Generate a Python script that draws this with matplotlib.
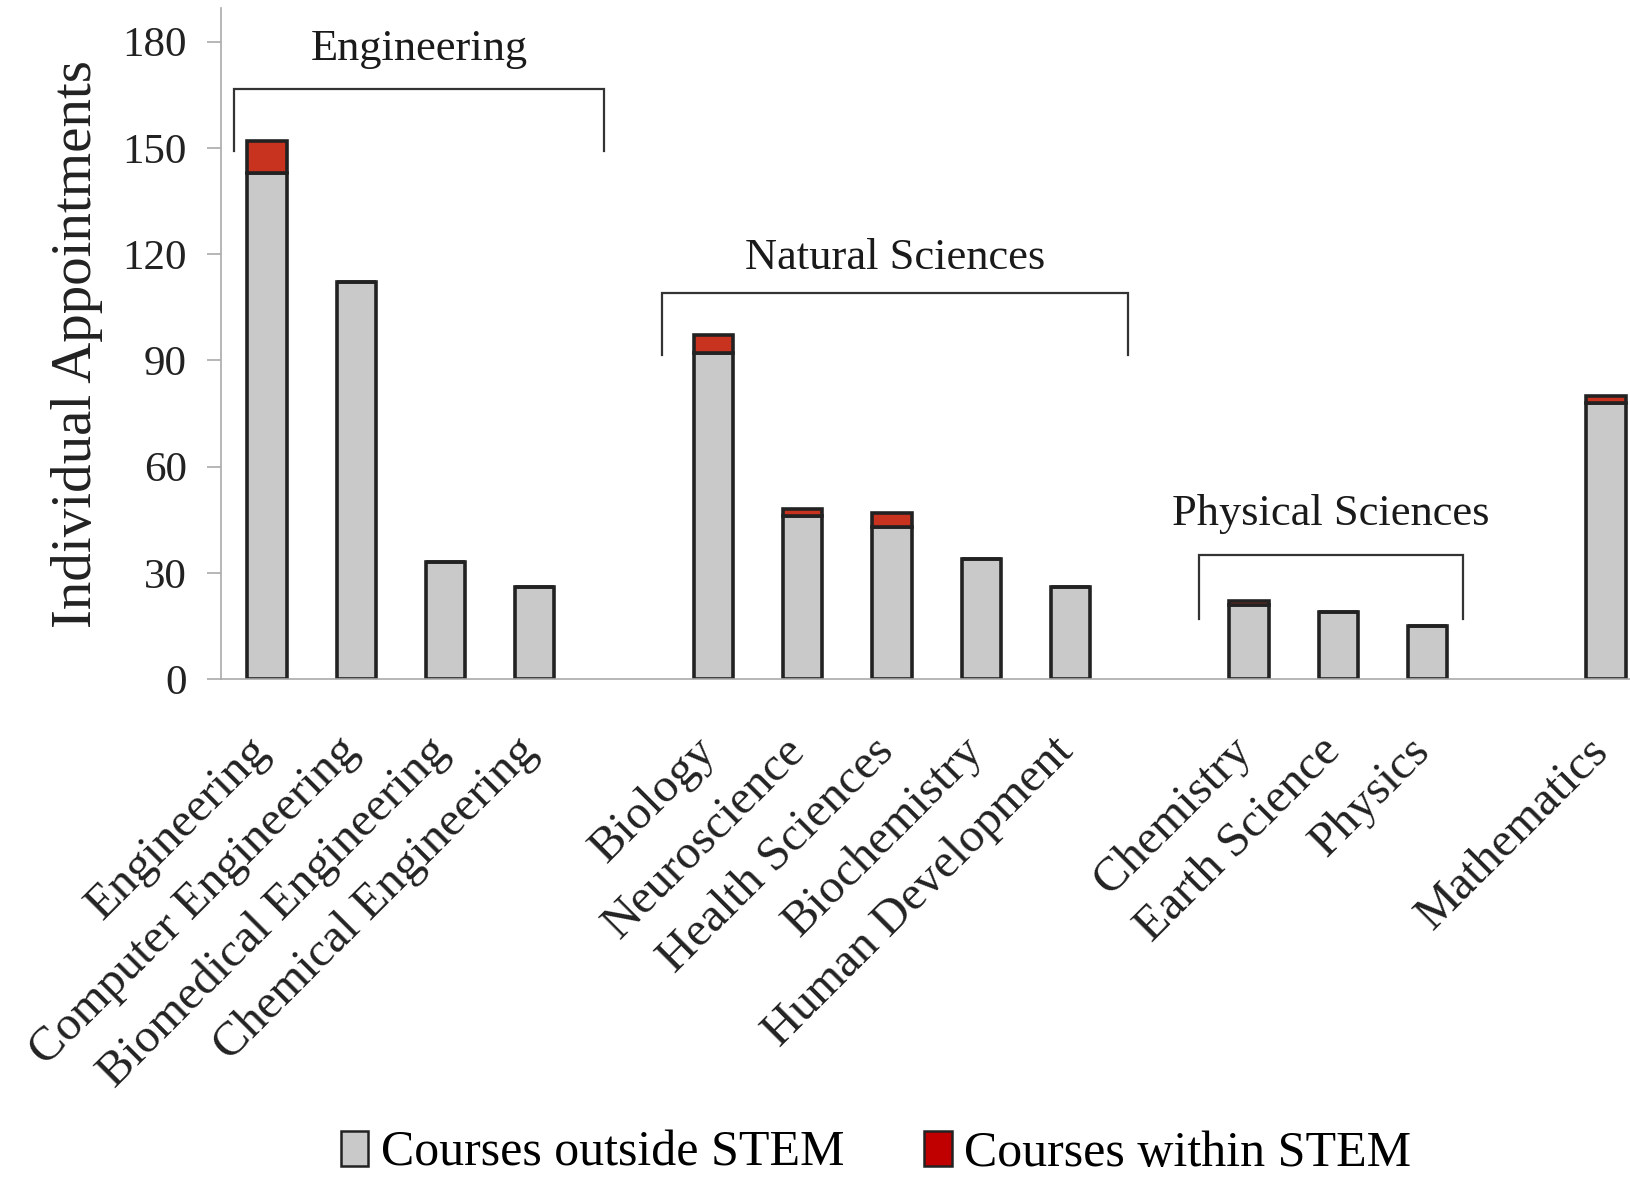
import matplotlib
matplotlib.use("Agg")
import matplotlib.pyplot as plt
from matplotlib.patches import Patch
from matplotlib.transforms import ScaledTranslation

categories = ["Engineering", "Computer Engineering", "Biomedical Engineering", "Chemical Engineering",
              "Biology", "Neuroscience", "Health Sciences", "Biochemistry", "Human Development",
              "Chemistry", "Earth Science", "Physics", "Mathematics"]
positions = [0, 1, 2, 3, 5, 6, 7, 8, 9, 11, 12, 13, 15]
outside_stem = [143, 112, 33, 26, 92, 46, 43, 34, 26, 21, 19, 15, 78]
within_stem = [9, 0, 0, 0, 5, 2, 4, 0, 0, 1, 0, 0, 2]

groups = ["Engineering", "Natural Sciences", "Physical Sciences"]
group_spans = [(-0.37, 3.78), (4.43, 9.64), (10.44, 13.4)]
group_bracket_y = [166.5, 109, 35]
group_bracket_drop = [149, 91.6, 17]
group_label_y = [178, 119, 46.7]

yticks = [0, 30, 60, 90, 120, 150, 180]

plt.rcParams['font.family'] = ['Liberation Serif', 'DejaVu Serif']

fig = plt.figure(figsize=(16.31, 11.77), dpi=100)
ax = fig.add_axes([0.1358, 0.4231, 0.8642, 0.5699])

gray = '#C9C9C9'
red = '#C8331F'
edge = '#222222'
w = 0.44
ax.bar(positions, outside_stem, width=w, color=gray, edgecolor=edge, linewidth=2.6, zorder=2)
ax.bar(positions, within_stem, width=w, bottom=outside_stem, color=red, edgecolor=edge, linewidth=2.6, zorder=2)

for name, (x0, x1), yb, yd, yl in zip(groups, group_spans, group_bracket_y, group_bracket_drop, group_label_y):
    ax.plot([x0, x0, x1, x1], [yd, yb, yb, yd], color='#333333', lw=1.6, zorder=3, solid_joinstyle='miter')
    ax.text((x0 + x1) / 2, yl, name, ha='center', va='center', fontsize=32, color='#1a1a1a')

ax.set_xlim(-0.51, 15.28)
ax.set_ylim(0, 189.4)
ax.set_yticks(yticks)
ax.tick_params(axis='y', labelsize=31, length=10, width=1.2, color='#aaaaaa', pad=15, labelcolor='#222222')
ax.set_xticks(positions)
ax.set_xticklabels(categories, rotation=45, ha='right', va='top', rotation_mode='anchor',
                   fontsize=35, color='#222222')
ax.tick_params(axis='x', length=0, pad=36)
shift = ScaledTranslation(-20 / 100, 0, fig.dpi_scale_trans)
for lab in ax.get_xticklabels():
    lab.set_transform(lab.get_transform() + shift)
ax.set_ylabel("Individual Appointments", fontsize=41, color='#222222', labelpad=14)

for s in ['top', 'right']:
    ax.spines[s].set_visible(False)
ax.spines['left'].set_color('#aaaaaa')
ax.spines['bottom'].set_color('#aaaaaa')
ax.spines['left'].set_linewidth(1.2)
ax.spines['bottom'].set_linewidth(1.2)

handles = [Patch(facecolor=gray, edgecolor=edge, linewidth=1.8, label='Courses outside STEM'),
           Patch(facecolor='#C00000', edgecolor=edge, linewidth=1.8, label='Courses within STEM')]
fig.legend(handles=handles, loc='center', bbox_to_anchor=(0.537, 0.02), ncol=2, frameon=False,
           fontsize=36, handlelength=0.55, handleheight=0.7, handletextpad=0.25, columnspacing=1.6)

fig.savefig("out.png", dpi=100)
